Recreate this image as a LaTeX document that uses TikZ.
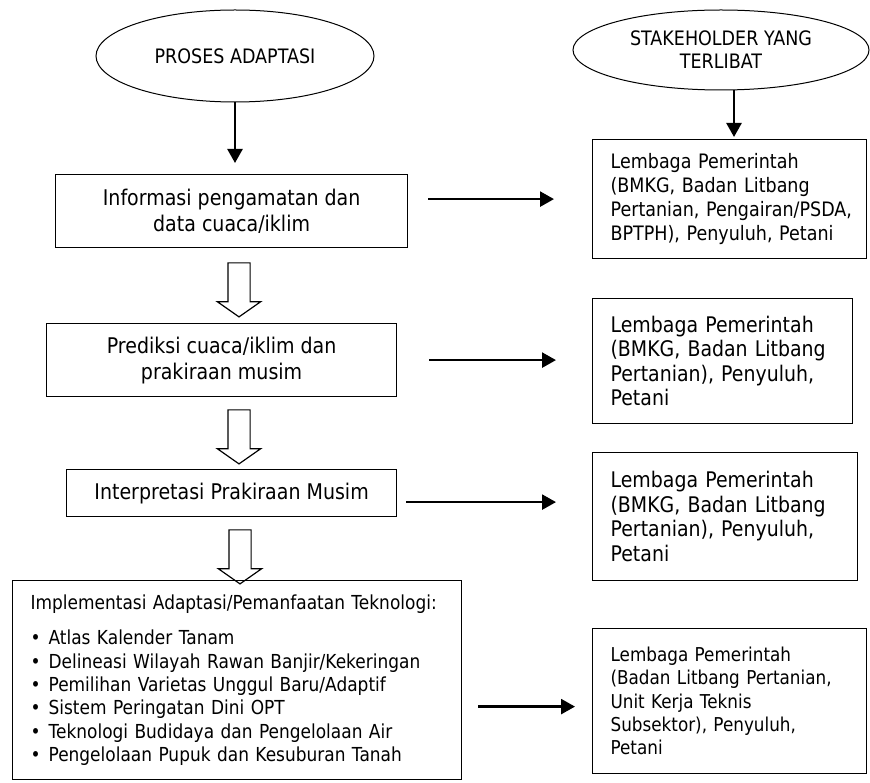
\documentclass[tikz,border=0pt]{standalone}
\usepackage{fontspec}
\setmainfont{DejaVu Sans}[FakeStretch=0.88]
\usetikzlibrary{shapes.geometric, shapes.arrows, arrows.meta, calc}

\newcommand{\itembul}{\makebox[18pt][l]{\textbullet}}

\tikzstyle{oval} = [ellipse, draw=black, line width=1pt, inner sep=0pt, align=center, font=\fontsize{19.9}{23}\selectfont]
\tikzstyle{process} = [rectangle, draw=black, line width=1.2pt, anchor=north west, align=center, inner sep=0pt, font=\fontsize{21.6}{26}\selectfont]
\tikzstyle{actor} = [rectangle, draw=black, line width=1.2pt, anchor=north west, align=left, inner xsep=18pt, inner ysep=0pt]
\tikzstyle{hollow} = [single arrow, draw=black, line width=1.2pt, rotate=-90, minimum height=54pt, minimum width=42pt, single arrow head extend=10.5pt, single arrow head indent=0pt, single arrow tip angle=110, inner xsep=0pt, inner ysep=10.5pt]
\tikzstyle{arrow} = [line width=2.5pt, -{Triangle[length=14pt,width=15pt]}]

\begin{document}
\begin{tikzpicture}[x=1pt, y=-1pt]
\useasboundingbox (0,0) rectangle (870,783);

\node (prosesAdaptasi) [oval, minimum width=278pt, minimum height=92pt] at (235,56) {PROSES ADAPTASI};
\node (stakeholder) [oval, minimum width=296pt, minimum height=80pt] at (721,50) {STAKEHOLDER YANG\\TERLIBAT};

\node (infoData) [process, minimum width=352pt, minimum height=73pt] at (55,174) {Informasi pengamatan dan\\data cuaca/iklim};
\node (prediksi) [process, minimum width=350pt, minimum height=73pt] at (46,323) {Prediksi cuaca/iklim dan\\prakiraan musim};
\node (interpretasi) [process, minimum width=330pt, minimum height=47pt] at (66,469) {Interpretasi Prakiraan Musim};
\node (implementasi) [actor, text width=413pt, minimum height=199pt, font=\fontsize{19.3}{23.3}\selectfont] at (12,580)
  {\mbox{Implementasi Adaptasi/Pemanfaatan Teknologi:}\\[12pt]
   \itembul Atlas Kalender Tanam\\
   \itembul Delineasi Wilayah Rawan Banjir/Kekeringan\\
   \itembul Pemilihan Varietas Unggul Baru/Adaptif\\
   \itembul Sistem Peringatan Dini OPT\\
   \itembul Teknologi Budidaya dan Pengelolaan Air\\
   \itembul Pengelolaan Pupuk dan Kesuburan Tanah};

\node (turun1) [hollow] at (239,286) {};
\node (turun2) [hollow] at (239,433) {};
\node (turun3) [hollow] at (240,553) {};

\node (lembagaInfo) [actor, text width=238pt, minimum height=119pt, font=\fontsize{19.9}{24}\selectfont] at (592,139)
  {Lembaga Pemerintah\\(BMKG, Badan Litbang\\\mbox{Pertanian, Pengairan/PSDA,}\\\mbox{BPTPH), Penyuluh, Petani}};
\node (lembagaPrediksi) [actor, text width=224pt, minimum height=125pt, font=\fontsize{21.5}{24.5}\selectfont] at (592,298)
  {Lembaga Pemerintah\\(BMKG, Badan Litbang\\Pertanian), Penyuluh,\\Petani};
\node (lembagaInterp) [actor, text width=229pt, minimum height=128pt, font=\fontsize{21.5}{24.5}\selectfont] at (592,452)
  {Lembaga Pemerintah\\(BMKG, Badan Litbang\\Pertanian), Penyuluh,\\Petani};
\node (lembagaImpl) [actor, text width=238pt, minimum height=145pt, font=\fontsize{19.1}{23.3}\selectfont] at (592,628)
  {Lembaga Pemerintah\\\mbox{(Badan Litbang Pertanian,}\\Unit Kerja Teknis\\Subsektor), Penyuluh,\\Petani};

\coordinate (stakeOut) at ($(stakeholder.south)+(13,0)$);
\coordinate (interpOut) at ($(interpretasi.east)+(0,9)$);
\coordinate (implTip) at ($(lembagaImpl.west)+(0,5.5)$);

\draw [arrow, shorten >=11pt] (prosesAdaptasi.south) -- (prosesAdaptasi.south |- infoData.north);
\draw [arrow, shorten >=2pt] (stakeOut) -- (stakeOut |- lembagaInfo.north);
\draw [arrow, shorten <=20pt, shorten >=38pt] (infoData.east |- lembagaInfo.west) -- (lembagaInfo.west);
\draw [arrow, shorten <=32pt, shorten >=36pt] (prediksi.east) -- (prediksi.east -| lembagaPrediksi.west);
\draw [arrow, shorten <=9pt, shorten >=36pt] (interpOut) -- (interpOut -| lembagaInterp.west);
\draw [arrow, shorten <=16pt, shorten >=17pt] (implementasi.east |- implTip) -- (implTip);

\end{tikzpicture}
\end{document}
